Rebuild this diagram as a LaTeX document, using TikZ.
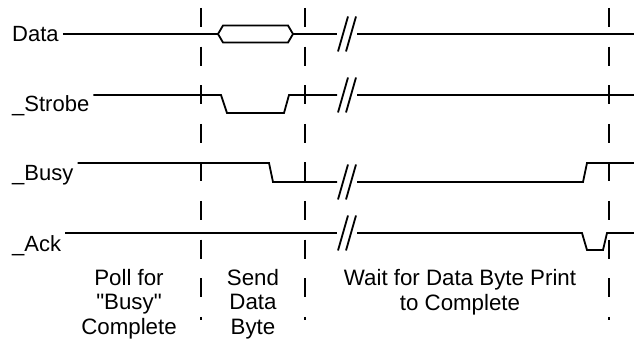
\documentclass[tikz,border=0pt]{standalone}
\usepackage{fontspec}
\setmainfont{Liberation Sans}[Ligatures=TeXOff]
\usepackage{tikz}

\begin{document}
\begin{tikzpicture}[x=1pt, y=-1pt,
		sig/.style={line width=1.8pt, line join=miter},
		guide/.style={line width=1.8pt, dash pattern=on 19pt off 19.6pt},
		lbl/.style={anchor=base west, inner ysep=0pt, inner xsep=4pt, font=\fontsize{22}{24.5}\selectfont},
		phase/.style={anchor=base, align=center, inner sep=0pt, font=\fontsize{22.3}{24.6}\selectfont}]
			\useasboundingbox (0,0) rectangle (634,339);
			
			% 信号名称
			\node[lbl] (data) at (8,42) {Data};
			\node[lbl] (strobe) at (8,112) {\_Strobe};
			\node[lbl] (busy) at (8,181) {\_Busy};
			\node[lbl] (ack) at (8,251) {\_Ack};
			
			% 三条虚线（阶段分界）
			\draw[guide] (201,8) -- (201,320);
			\draw[guide] (305,8) -- (305,320);
			\draw[guide] (609,8) -- (609,320);
			
			% Data：数据总线
			\draw[sig] (data.east |- 0,34) -- (218,34);
			\draw[sig] (218,34) -- (223,25.5) -- (288,25.5) -- (293,34) -- (288,42.5) -- (223,42.5) -- cycle;
			\draw[sig] (293,34) -- (337,34);
			\draw[sig] (357,34) -- (634,34);
			
			% _Strobe：低电平脉冲
			\draw[sig] (strobe.east |- 0,95) -- (221,95) -- (227,113) -- (284,113) -- (289,95) -- (337,95);
			\draw[sig] (357,95) -- (634,95);
			
			% _Busy：忙信号
			\draw[sig] (busy.east |- 0,163) -- (269,163) -- (273,182) -- (337,182);
			\draw[sig] (357,182) -- (583,182) -- (587,163) -- (634,163);
			
			% _Ack：应答脉冲
			\draw[sig] (ack.east |- 0,233) -- (337,233);
			\draw[sig] (357,233) -- (582,233) -- (587,250) -- (603,250) -- (607,233) -- (634,233);
			
			% 时间断开符号 //
			\foreach \y in {34,95,182,233} {
				\draw[sig] (338,\y+17.5) -- (348,\y-17.5);
				\draw[sig] (346,\y+17.5) -- (356,\y-17.5);
			}
			
			% 阶段说明（基线取最后一行）
			\node[phase] (poll) at (129,334.5) {Poll for\\"Busy"\\Complete};
			\node[phase] (send) at (253,334.5) {Send\\Data\\Byte};
			\node[phase] (wait) at (460,310) {Wait for Data Byte Print\\to Complete};
		\end{tikzpicture}
\end{document}
